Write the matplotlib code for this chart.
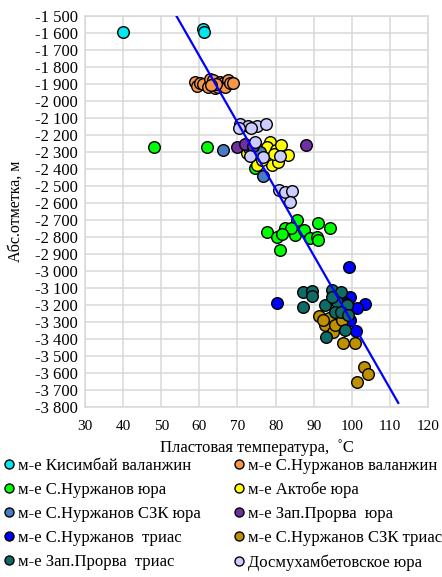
import matplotlib
matplotlib.use('Agg')
import matplotlib.pyplot as plt
from matplotlib.lines import Line2D
from matplotlib.ticker import FuncFormatter
import numpy as np

# series: (temperature, absolute mark)
kisimbay_val_t = [40.0, 61.0, 61.2]
kisimbay_val_h = [-1595, -1578, -1592]

nurzh_val_t = [58.9, 59.3, 60.2, 61.0, 62.4, 62.8, 63.7, 64.1, 65.0, 65.4, 66.3, 66.7, 67.6, 68.0, 68.9, 64.5, 63.0]
nurzh_val_h = [-1886, -1912, -1896, -1900, -1920, -1872, -1876, -1925, -1916, -1886, -1892, -1920, -1876, -1896, -1892, -1900, -1905]

nurzh_jura_t = [48.1, 62.1, 80.7, 74.6, 78.5, 79.5, 77.7, 80.3, 81.2, 82.5, 85.5, 85.1, 87.5, 89.0, 91.2, 91.0, 91.1, 94.3, 84.0, 81.8]
nurzh_jura_h = [-2269, -2269, -2272, -2396, -2290, -2330, -2768, -2798, -2876, -2749, -2700, -2788, -2759, -2808, -2716, -2798, -2820, -2749, -2745, -2785]

aktobe_jura_t = [78.5, 72.4, 75.9, 77.7, 83.3, 75.0, 79.0, 80.7, 77.7, 80.0, 76.5, 79.5, 81.5]
aktobe_jura_h = [-2239, -2308, -2288, -2327, -2318, -2376, -2376, -2357, -2269, -2290, -2345, -2310, -2260]

nurzh_szk_jura_t = [66.1, 76.8, 75.9, 73.0]
nurzh_szk_jura_h = [-2288, -2439, -2298, -2275]

zap_jura_t = [70.0, 72.0, 74.0, 88.0]
zap_jura_h = [-2272, -2250, -2262, -2260]

nurzh_trias_t = [99.4, 80.3, 103.5, 101.3, 99.5, 101.1, 99.5, 98.2, 97.0]
nurzh_trias_h = [-2975, -3188, -3194, -3219, -3288, -3351, -3151, -3190, -3140]

nurzh_szk_trias_t = [91.5, 94.1, 93.0, 95.2, 96.9, 97.8, 100.8, 103.2, 104.3, 101.4, 92.5, 95.5, 97.5]
nurzh_szk_trias_h = [-3265, -3278, -3318, -3357, -3304, -3425, -3421, -3567, -3606, -3651, -3290, -3320, -3290]

zap_trias_t = [87.3, 89.5, 89.5, 87.3, 94.7, 97.3, 93.0, 96.0, 95.6, 98.7, 98.2, 93.2, 94.7, 97.3, 99.0]
zap_trias_h = [-3122, -3116, -3145, -3213, -3112, -3122, -3200, -3180, -3239, -3200, -3347, -3386, -3151, -3239, -3260]

dosmukh_jura_t = [70.7, 72.9, 75.2, 77.4, 73.5, 70.5, 74.6, 73.3, 76.8, 81.2, 81.0, 82.5, 84.2, 83.8]
dosmukh_jura_h = [-2135, -2147, -2147, -2135, -2161, -2160, -2239, -2322, -2327, -2322, -2523, -2533, -2529, -2596]

# linear trend
trend_slope = -39.1
trend_intercept = 611.0
trend_x = [50.0, 112.2]

series = [
    ('м-е Кисимбай валанжин', kisimbay_val_t, kisimbay_val_h, '#00E8F0'),
    ('м-е С.Нуржанов валанжин', nurzh_val_t, nurzh_val_h, '#F79646'),
    ('м-е С.Нуржанов юра', nurzh_jura_t, nurzh_jura_h, '#00FF00'),
    ('м-е Актобе юра', aktobe_jura_t, aktobe_jura_h, '#FFFF00'),
    ('м-е С.Нуржанов СЗК юра', nurzh_szk_jura_t, nurzh_szk_jura_h, '#4A7CC4'),
    ('м-е Зап.Прорва  юра', zap_jura_t, zap_jura_h, '#7030A0'),
    ('м-е С.Нуржанов  триас', nurzh_trias_t, nurzh_trias_h, '#0000FF'),
    ('м-е С.Нуржанов СЗК триас', nurzh_szk_trias_t, nurzh_szk_trias_h, '#BF9000'),
    ('м-е Зап.Прорва  триас', zap_trias_t, zap_trias_h, '#0E6B66'),
    ('Досмухамбетовское юра', dosmukh_jura_t, dosmukh_jura_h, '#CCCCFF'),
]

plt.rcParams['font.family'] = ['Liberation Serif', 'DejaVu Serif']

fig = plt.figure(figsize=(4.42, 5.77), dpi=100)
ax = fig.add_axes([85/442, 1 - 407/577, (428 - 85)/442, (407 - 16)/577])

for name, t, h, col in series:
    ax.scatter(t, h, s=70, c=col, edgecolors='black', linewidths=1.0, zorder=3)

tx = np.array(trend_x)
ax.plot(tx, trend_intercept + trend_slope*tx, color='#0000FF', lw=1.6, zorder=4)

ax.set_xlim(30, 120)
ax.set_ylim(-3800, -1500)
ax.set_xticks(np.arange(30, 121, 10))
ax.set_yticks(np.arange(-3800, -1499, 100))
ax.yaxis.set_major_formatter(FuncFormatter(
    lambda v, p: '-{}\u00a0{:03d}'.format(int(-v)//1000, int(-v) % 1000)))
ax.grid(True, color='#D9D9D9', lw=1.1, zorder=0)
ax.set_axisbelow(True)
for sp in ax.spines.values():
    sp.set_color('#D9D9D9')
    sp.set_linewidth(1.1)
ax.tick_params(length=0, labelsize=11, pad=5)
ax.tick_params(axis='y', labelsize=12, pad=5)
ax.tick_params(axis='x', pad=9)

ax.set_xlabel('Пластовая температура,  \u02daC', fontsize=12, labelpad=5)
ax.set_ylabel('Абс.отметка, м', fontsize=11.5, labelpad=8)

# legend goes row by row, matplotlib fills columns first
order = [0, 2, 4, 6, 8, 1, 3, 5, 7, 9]
handles = [Line2D([], [], ls='none', marker='o', ms=6.5, mfc=series[i][3],
                  mec='black', mew=1.0) for i in order]
labels = [series[i][0] for i in order]
fig.legend(handles, labels, loc='upper left', bbox_to_anchor=(-0.006, 1 - 451/577),
           ncol=2, frameon=False, fontsize=12, handlelength=0.6,
           handletextpad=0.25, columnspacing=2.0, labelspacing=0.48,
           borderaxespad=0)

fig.savefig('out.png', dpi=100)
